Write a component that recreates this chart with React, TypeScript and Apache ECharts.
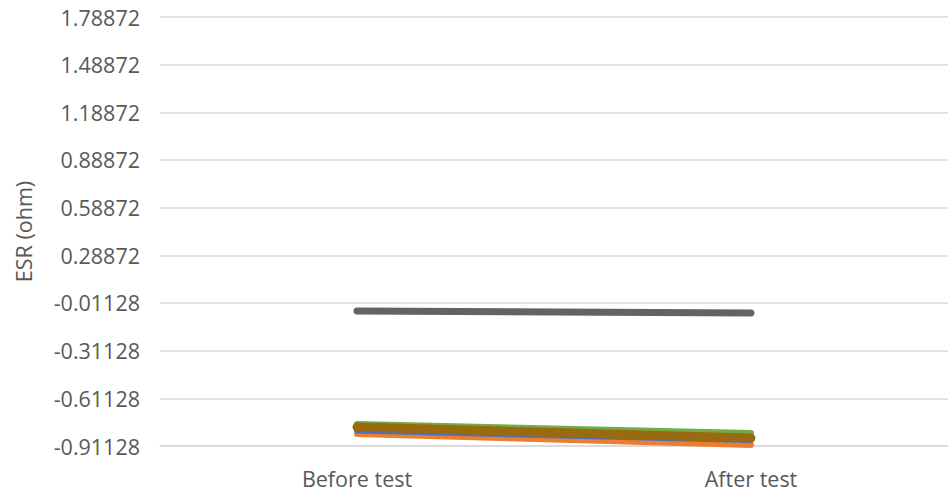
import React, { useEffect, useRef } from "react";
import * as echarts from "echarts";

const categories = ["Before test", "After test"];
const seriesOrange = [-0.836, -0.905];
const seriesBlue = [-0.814, -0.873];
const seriesGreen = [-0.773, -0.829];
const seriesBrown = [-0.792, -0.861];
const seriesGray = [-0.062, -0.074];
const yMin = -0.91128;
const yMax = 1.78872;
const yStep = 0.3;

export default function App() {
  const ref = useRef<HTMLDivElement>(null);
  useEffect(() => {
    if (!ref.current) return;
    const chart = echarts.init(ref.current, undefined, { renderer: "svg" });
    const font = "'Open Sans', sans-serif";
    const fs = 21.5;
    const mk = (name: string, data: number[], color: string, width: number) => ({
      name,
      type: "line",
      data,
      symbol: "none",
      lineStyle: { color, width, cap: "round" },
      itemStyle: { color },
    });
    chart.setOption({
      animation: false,
      backgroundColor: "#ffffff",
      grid: { left: 160, right: -8, top: 17, bottom: 50 },
      xAxis: {
        type: "category",
        data: categories,
        boundaryGap: true,
        axisLine: { onZero: false, lineStyle: { color: "#d9d9d9", width: 1.5 } },
        axisTick: { show: false },
        axisLabel: { color: "#595959", fontSize: fs, fontFamily: font, margin: 21 },
      },
      yAxis: {
        type: "value",
        min: yMin,
        max: yMax,
        interval: yStep,
        name: "ESR (ohm)",
        nameLocation: "middle",
        nameRotate: 90,
        nameGap: 126,
        nameTextStyle: { color: "#595959", fontSize: fs, fontFamily: font },
        axisLine: { show: false },
        axisTick: { show: false },
        splitLine: { lineStyle: { color: "#d9d9d9", width: 1.5 } },
        axisLabel: {
          color: "#595959",
          fontSize: fs,
          fontFamily: font,
          margin: 20,
          formatter: (_v: number, i: number) => (yMin + i * yStep).toFixed(5),
        },
      },
      series: [
        mk("Orange", seriesOrange, "#ED7D31", 6),
        mk("Blue", seriesBlue, "#4472C4", 6),
        mk("Green", seriesGreen, "#70AD47", 6),
        mk("Brown", seriesBrown, "#9A6A10", 9),
        mk("Gray", seriesGray, "#636363", 7),
      ],
    });
    return () => chart.dispose();
  }, []);
  return (
    <div
      ref={ref}
      style={{ position: "fixed", left: 0, top: 0, width: 948, height: 496 }}
    />
  );
}
